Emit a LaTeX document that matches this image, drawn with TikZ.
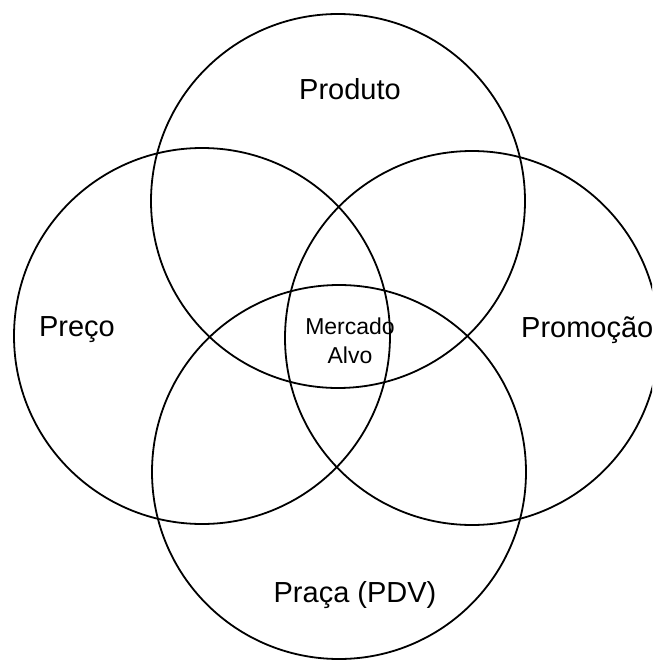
\documentclass[tikz,border=0pt]{standalone}
\usepackage{fontspec}
\setmainfont{Liberation Sans}
\usetikzlibrary{positioning}

\begin{document}
\begin{tikzpicture}[
    x=1pt, y=-1pt,
    ring/.style={draw, line width=1.8pt},
    label/.style={font=\fontsize{29}{32}\selectfont, inner sep=0pt},
    core/.style={font=\fontsize{23}{29}\selectfont, align=center, inner sep=0pt},
]
    \useasboundingbox (0,0) rectangle (652,660);
    \clip (0,0) rectangle (652,660);

    % the four circles
    \draw[ring] (338,201) circle[radius=187];
    \draw[ring] (202,336) circle[radius=188];
    \draw[ring] (472,338) circle[radius=187];
    \draw[ring] (339,472) circle[radius=187];

    \node[label] (produto) at (350,89) {Produto};
    \node[label] (preco) at (77,330) {Preço};
    \node[label, anchor=west] (promocao) at (521,330) {Promoção};
    \node[label] (praca) at (355,595) {Praça (PDV)};
    \node[core] (alvo) at (350,341) {Mercado\\Alvo};
\end{tikzpicture}
\end{document}
